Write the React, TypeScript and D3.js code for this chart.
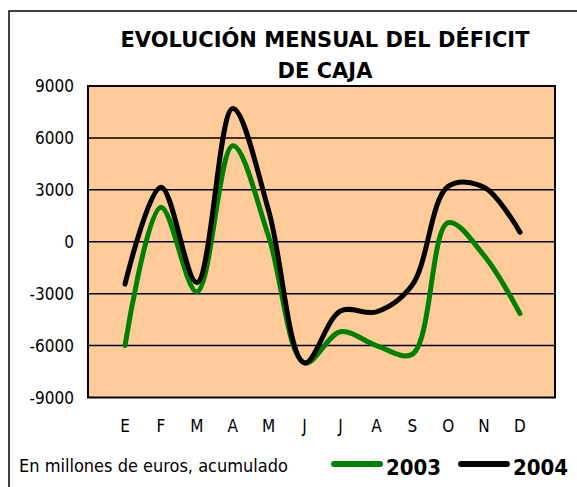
import React, { useEffect, useRef } from 'react';
import * as d3 from 'd3';

// months (Spanish initials)
const months = ['E', 'F', 'M', 'A', 'M', 'J', 'J', 'A', 'S', 'O', 'N', 'D'];
// cumulative cash deficit, millions of euros
const v2003 = [-6000, 2000, -2900, 5550, 300, -7000, -5200, -6000, -6500, 1100, -800, -4150];
const v2004 = [-2450, 3150, -2350, 7700, 1800, -7000, -4000, -4050, -2500, 3200, 3150, 550];
const yTicks = [9000, 6000, 3000, 0, -3000, -6000, -9000];

const FONT = "'DejaVu Sans Condensed', 'DejaVu Sans', sans-serif";

const App: React.FC = () => {
  const ref = useRef<SVGSVGElement>(null);

  useEffect(() => {
    const width = 577, height = 487;
    const svg = d3.select(ref.current)
      .attr('width', width)
      .attr('height', height);
    svg.selectAll('*').remove();

    // outer chart border (runs off the right / bottom)
    svg.append('rect')
      .attr('x', 9).attr('y', 11)
      .attr('width', 600).attr('height', 500)
      .attr('fill', '#fff')
      .attr('stroke', '#000')
      .attr('stroke-width', 1.5);

    // title
    const title = svg.append('text')
      .attr('text-anchor', 'middle')
      .attr('font-family', "'DejaVu Sans', sans-serif")
      .attr('font-weight', 'bold')
      .attr('font-size', 21)
      .attr('fill', '#000');
    title.append('tspan').attr('x', 325).attr('y', 47).text('EVOLUCIÓN MENSUAL DEL DÉFICIT');
    title.append('tspan').attr('x', 325).attr('y', 78).text('DE CAJA');

    const plot = { left: 88, right: 555, top: 86, bottom: 397.5 };

    const x = d3.scalePoint<number>()
      .domain(d3.range(months.length))
      .range([125, 520]);
    const y = d3.scaleLinear()
      .domain([-9000, 9000])
      .range([plot.bottom, plot.top]);

    // plot background
    svg.append('rect')
      .attr('x', plot.left).attr('y', plot.top)
      .attr('width', plot.right - plot.left)
      .attr('height', plot.bottom - plot.top)
      .attr('fill', '#ffcc99');

    // gridlines
    svg.append('g')
      .selectAll('line')
      .data(yTicks.slice(1, -1))
      .join('line')
      .attr('x1', plot.left).attr('x2', plot.right)
      .attr('y1', d => y(d)).attr('y2', d => y(d))
      .attr('stroke', '#000')
      .attr('stroke-width', 1.5);

    // y tick labels
    svg.append('g')
      .selectAll('text')
      .data(yTicks)
      .join('text')
      .attr('x', 74)
      .attr('y', d => y(d))
      .attr('dy', '0.36em')
      .attr('text-anchor', 'end')
      .attr('font-family', FONT)
      .attr('font-size', 17)
      .text(d => d);

    // month labels
    svg.append('g')
      .selectAll('text')
      .data(months)
      .join('text')
      .attr('x', (d, i) => x(i) as number)
      .attr('y', 432)
      .attr('text-anchor', 'middle')
      .attr('font-family', FONT)
      .attr('font-size', 17)
      .text(d => d);

    const line = d3.line<number>()
      .x((d, i) => x(i) as number)
      .y(d => y(d))
      .curve(d3.curveCatmullRom.alpha(0.5));

    svg.append('path')
      .datum(v2003)
      .attr('fill', 'none')
      .attr('stroke', '#008000')
      .attr('stroke-width', 5)
      .attr('stroke-linecap', 'round')
      .attr('d', line);

    svg.append('path')
      .datum(v2004)
      .attr('fill', 'none')
      .attr('stroke', '#000')
      .attr('stroke-width', 5)
      .attr('stroke-linecap', 'round')
      .attr('d', line);

    // plot border
    svg.append('rect')
      .attr('x', plot.left).attr('y', plot.top)
      .attr('width', plot.right - plot.left)
      .attr('height', plot.bottom - plot.top)
      .attr('fill', 'none')
      .attr('stroke', '#000')
      .attr('stroke-width', 2);

    // footnote
    svg.append('text')
      .attr('x', 19).attr('y', 472)
      .attr('font-family', FONT)
      .attr('font-size', 18)
      .text('En millones de euros, acumulado');

    // legend
    const legend = [
      { label: '2003', color: '#008000', x0: 334 },
      { label: '2004', color: '#000', x0: 461 },
    ];
    const lg = svg.append('g').selectAll('g').data(legend).join('g');
    lg.append('line')
      .attr('x1', d => d.x0).attr('x2', d => d.x0 + 46)
      .attr('y1', 464).attr('y2', 464)
      .attr('stroke', d => d.color)
      .attr('stroke-width', 6)
      .attr('stroke-linecap', 'round');
    lg.append('text')
      .attr('x', d => d.x0 + 52).attr('y', 475)
      .attr('font-family', FONT)
      .attr('font-weight', 'bold')
      .attr('font-size', 22)
      .text(d => d.label);
  }, []);

  return <svg ref={ref} style={{ position: 'absolute', left: 0, top: 0 }}></svg>;
};

export default App;
